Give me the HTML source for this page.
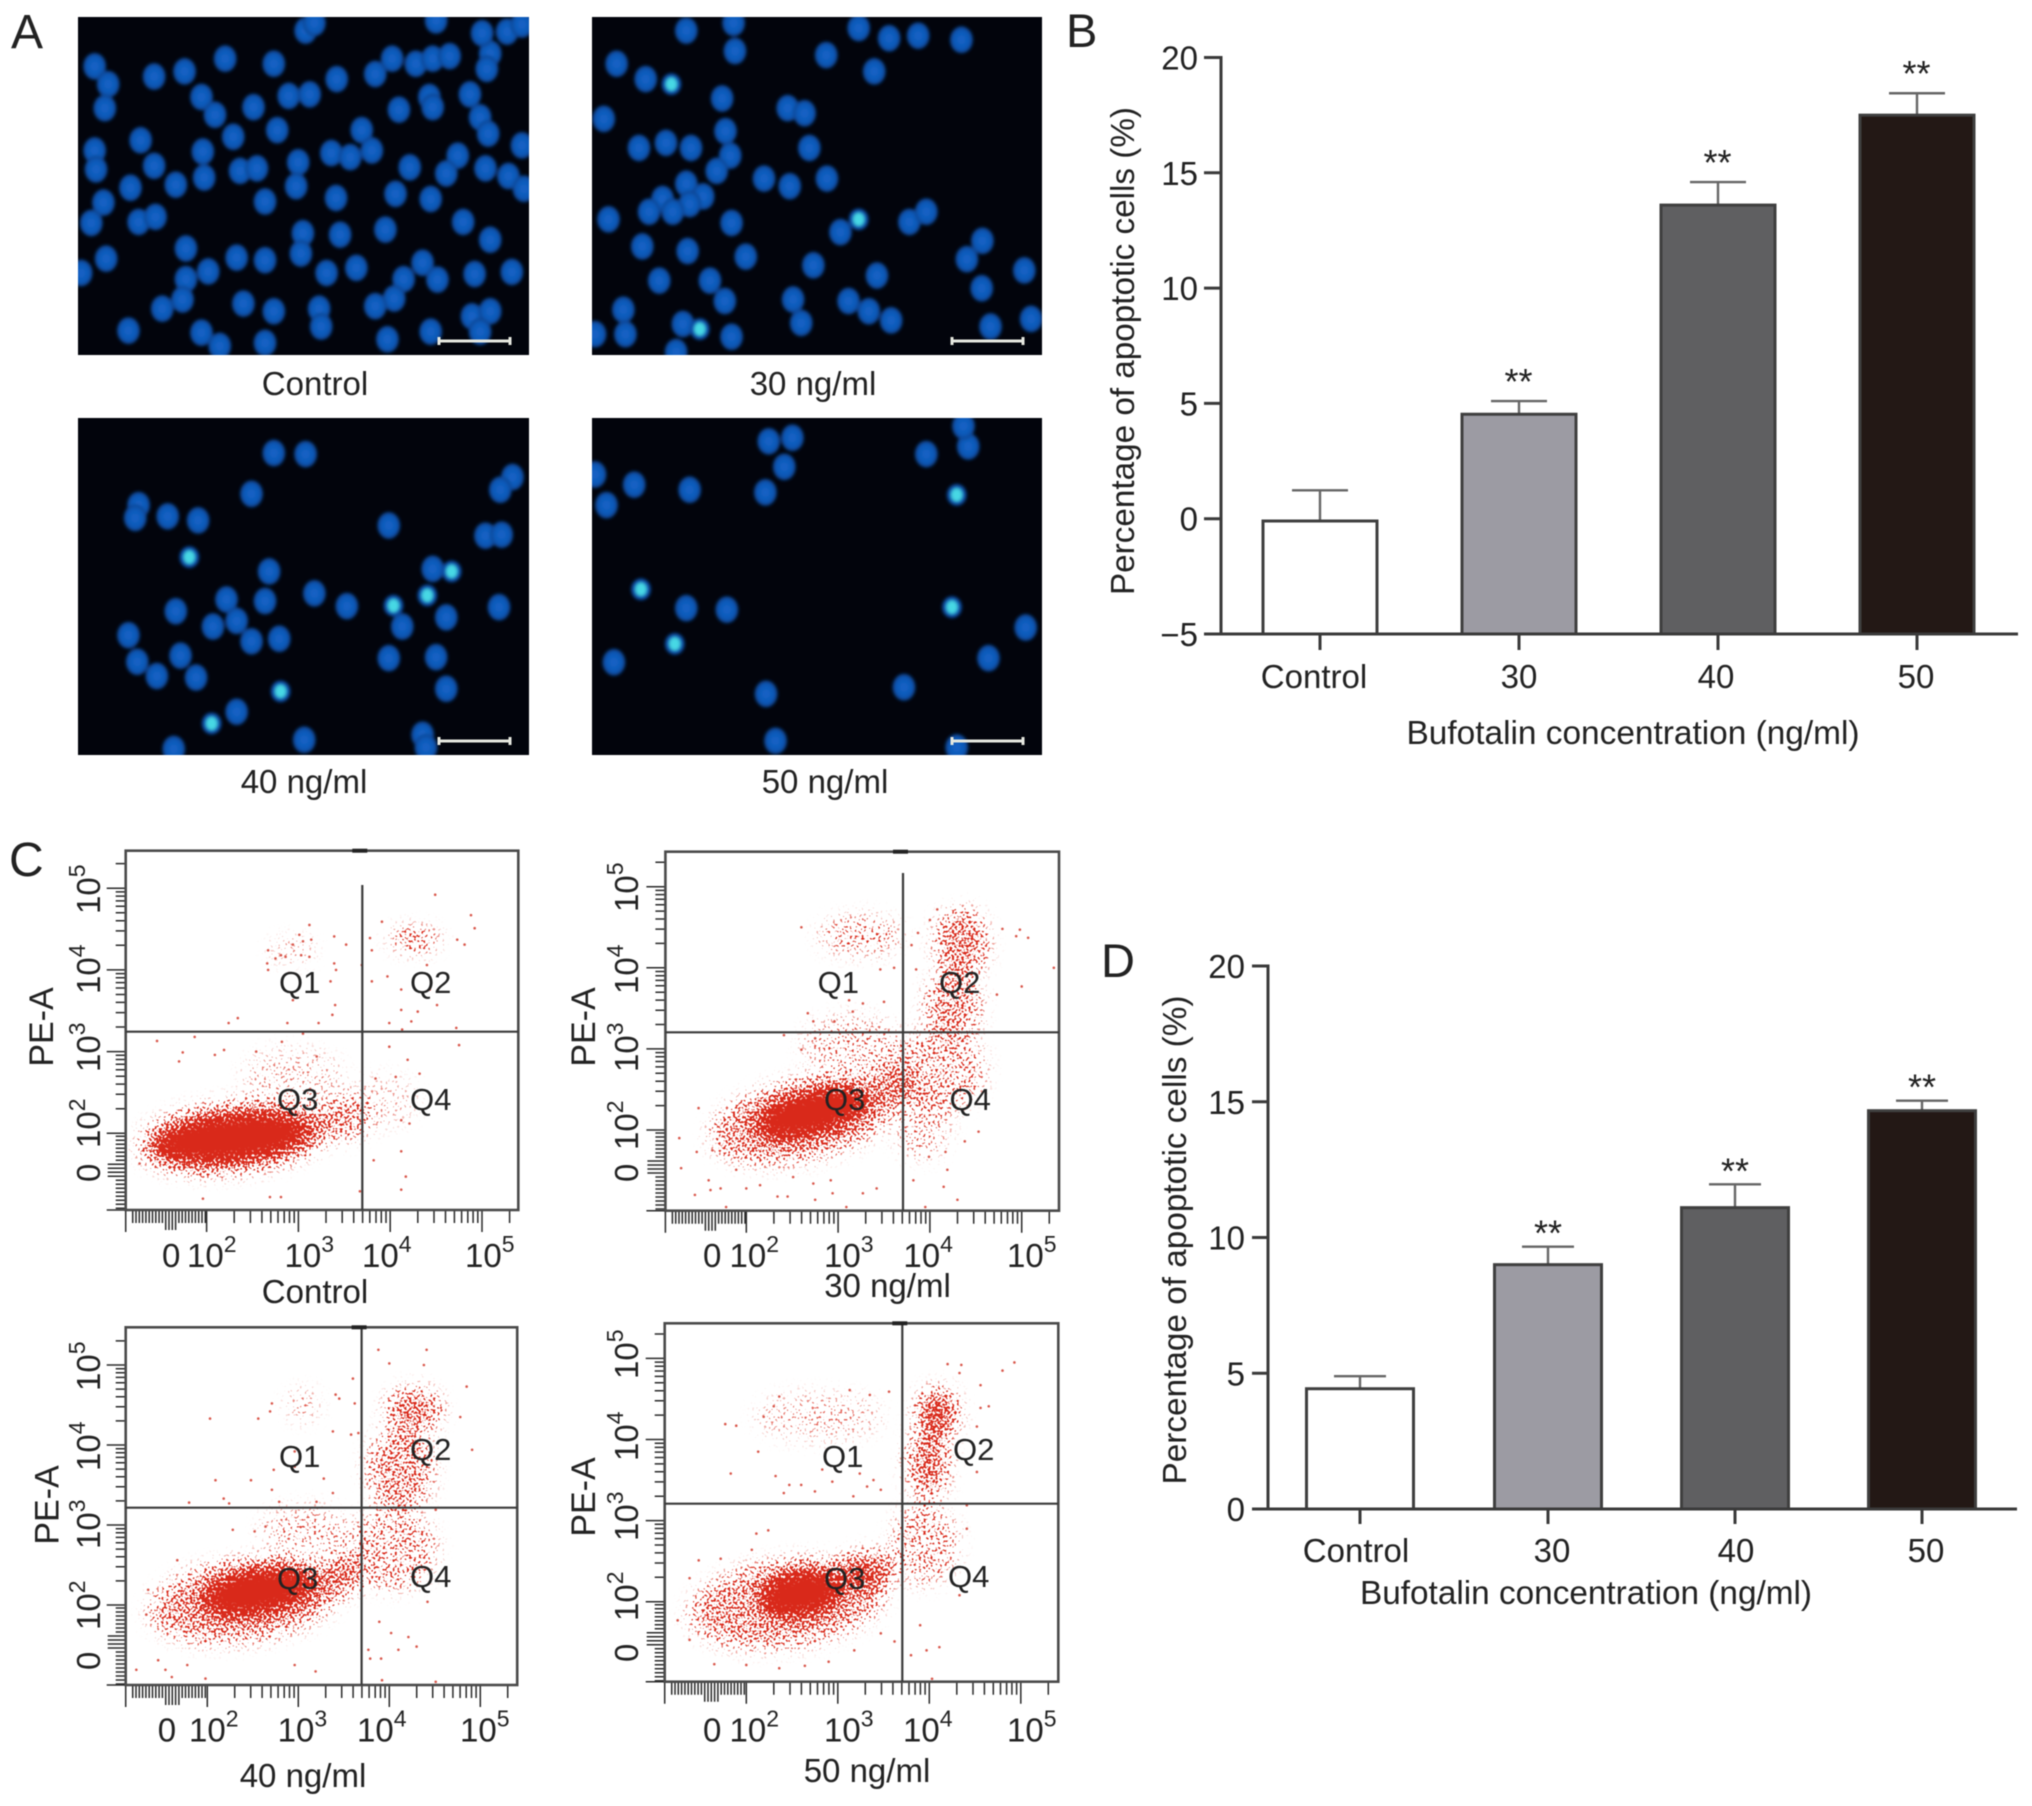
<!DOCTYPE html>
<html lang="en">
<head>
<meta charset="utf-8">
<title>Bufotalin apoptosis figure</title>
<style>
html,body{margin:0;padding:0;background:#fff;width:2032px;height:1806px;overflow:hidden}
svg{display:block;filter:blur(0.6px)}
text{font-family:"Liberation Sans",Arial,sans-serif;fill:#222}
</style>
</head>
<body>
<svg id="fig" xmlns="http://www.w3.org/2000/svg" width="2032" height="1806" viewBox="0 0 2032 1806">
<defs>
<radialGradient id="nucleusFill" cx="50%" cy="50%" r="50%"><stop offset="0%" stop-color="#1464c8"/><stop offset="70%" stop-color="#0f58b6"/><stop offset="100%" stop-color="#0b3f88"/></radialGradient>
<filter id="soft" x="-5%" y="-5%" width="110%" height="110%"><feGaussianBlur stdDeviation="1.6"/></filter>
<filter id="speckle" filterUnits="userSpaceOnUse" x="0" y="840" width="1100" height="860" color-interpolation-filters="sRGB">
<feGaussianBlur in="SourceGraphic" stdDeviation="9" result="blob"/>
<feTurbulence type="fractalNoise" baseFrequency="0.42" numOctaves="1" seed="7" result="noise"/>
<feColorMatrix in="noise" type="matrix" values="0 0 0 0 .85 0 0 0 0 .15 0 0 0 0 .1 3 0 0 0 -1" result="grain"/>
<feComposite in="blob" in2="grain" operator="arithmetic" k1="0" k2="1.3" k3="1" k4="-1" result="sum"/>
<feColorMatrix in="sum" type="matrix" values="0 0 0 0 .85 0 0 0 0 .16 0 0 0 0 .1 0 0 0 4 0"/>
</filter>
</defs>
<rect width="2032" height="1806" fill="#fff"/>
<text x="11" y="48" font-size="48">A</text>
<text x="1066" y="47" font-size="47">B</text>
<text x="9" y="876" font-size="48">C</text>
<text x="1101" y="977" font-size="47">D</text>
<text x="315" y="395" font-size="33" text-anchor="middle">Control</text>
<text x="813" y="395" font-size="33" text-anchor="middle">30 ng/ml</text>
<text x="304" y="793" font-size="33" text-anchor="middle">40 ng/ml</text>
<text x="825" y="793" font-size="33" text-anchor="middle">50 ng/ml</text>
<g id="micrographs"></g>
<g id="barB"></g>
<g id="barD"></g>
<g id="flow"></g>
</svg>
<script>
/* ---------- bar chart data ---------- */
const categories = ['Control', '30', '40', '50'];
const barFills = ['#ffffff', '#9c9ba3', '#5f5f61', '#231815'];
const bValues = [-0.1, 4.53, 13.6, 17.5];
const bErrorTops = [1.23, 5.1, 14.6, 18.45];
const bStars = ['', '**', '**', '**'];
const bTicks = [-5, 0, 5, 10, 15, 20];
const bTickLabels = ['\u22125', '0', '5', '10', '15', '20'];
const dValues = [4.43, 9.0, 11.1, 14.67];
const dErrorTops = [4.89, 9.66, 11.96, 15.04];
const dStars = ['', '**', '**', '**'];
const dTicks = [0, 5, 10, 15, 20];
const dTickLabels = ['0', '5', '10', '15', '20'];

/* ---------- flow cytometry data: log10 units. Clouds: [x, y, rx, ry, angle, density] ---------- */
const flowExponents = [2, 3, 4, 5];
const cloudsControl = [[2.28,1.94,0.85,0.28,-6,1],[2.3,1.95,1.05,0.42,-6,0.42],[3.5,2.2,0.3,0.26,-10,0.36],[2.94,2.7,0.55,0.32,0,0.13],[4.27,4.37,0.26,0.11,0,0.45],[2.94,4.24,0.24,0.13,0,0.16],[3.95,2.4,0.35,0.3,0,0.1]];
const dotsControl = [[2.67,4.24],[2.75,4.14],[2.81,4.18],[2.86,4.16],[2.94,4.31],[3.01,4.43],[3.05,4.35],[3.14,4.37],[3.03,4.18],[3.12,4.16],[2.66,4.08],[2.67,4.0],[3.39,4.41],[3.52,4.31],[3.12,4.55],[3.39,4.08],[3.41,4.0],[3.35,3.86],[2.94,3.63],[4.49,4.92],[4.88,4.67],[4.92,4.51],[4.81,4.31],[4.73,4.37],[3.91,4.59],[3.78,4.39],[3.8,4.24],[3.69,4.06],[3.8,3.86],[3.97,3.92],[4.12,3.76],[4.4,4.06],[4.43,3.76],[4.51,3.57],[4.12,3.51],[4.3,3.49],[4.23,3.37],[3.99,3.35],[4.13,3.27],[4.72,3.29],[4.75,3.08],[3.4,3.57],[3.37,3.45],[3.22,3.35],[2.88,3.35],[2.34,3.41],[2.24,3.35],[1.46,3.13],[1.87,3.18],[1.74,2.99],[1.7,2.88],[2.09,2.96],[2.19,3.02],[2.54,3.0],[2.82,3.12],[3.05,3.22],[3.2,2.94],[3.99,3.06],[4.19,2.9],[4.32,2.73],[4.06,2.69],[3.84,2.67],[4.12,2.16],[4.21,2.12],[4.12,1.78],[4.17,1.47],[4.12,1.31],[3.67,1.29],[3.82,1.67],[1.96,1.2],[2.69,1.22],[2.81,1.22],[1.27,1.63]];
const clouds30 = [[2.71,2.21,0.62,0.26,-15,1],[2.6,2.12,1.0,0.48,-12,0.4],[3.6,2.55,0.25,0.25,0,0.4],[4.1,2.74,0.5,0.5,0,0.26],[4.34,4.3,0.28,0.42,0,0.42],[4.25,3.52,0.3,0.42,0,0.36],[3.24,4.4,0.45,0.22,0,0.25],[3.16,3.03,0.55,0.38,0,0.18],[3.91,2.05,0.3,0.4,0,0.18]];
const dots30 = [[2.6,4.5],[4.08,4.72],[4.94,4.39],[5.07,4.37],[4.98,4.47],[4.79,4.48],[5.35,4.0],[5.0,3.77],[4.73,3.67],[4.0,4.59],[3.87,4.43],[3.8,4.28],[3.85,3.98],[3.61,4.0],[3.46,3.98],[3.12,3.6],[3.27,3.56],[3.5,3.58],[2.67,3.44],[2.73,3.34],[2.96,3.34],[3.16,3.46],[2.41,3.17],[2.75,3.13],[2.6,2.99],[1.27,1.9],[1.48,2.27],[1.46,1.73],[1.29,1.53],[1.59,1.38],[1.61,1.26],[1.72,1.28],[1.44,1.2],[1.78,1.05],[2.0,1.28],[2.15,1.32],[2.34,1.18],[2.45,1.18],[2.51,1.42],[2.73,1.34],[2.75,1.14],[2.92,1.38],[2.94,1.22],[3.27,1.22],[3.42,1.28],[3.09,1.05],[3.82,1.38],[4.15,1.3],[4.19,1.51],[4.3,1.14],[3.95,1.05],[3.99,1.67],[4.17,1.73],[4.38,1.86],[4.53,1.98],[1.89,1.51],[1.63,1.75]];
const clouds40 = [[2.56,2.17,0.62,0.27,-10,1],[2.41,2.06,1.05,0.5,-8,0.4],[3.5,2.4,0.22,0.25,0,0.45],[4.04,2.69,0.48,0.5,0,0.26],[4.27,4.44,0.3,0.26,0,0.46],[4.12,3.69,0.36,0.52,0,0.36],[3.05,4.5,0.15,0.18,0,0.2],[3.09,2.94,0.5,0.28,0,0.18]];
const dots40 = [[3.88,5.19],[4.41,5.19],[4.0,5.02],[4.38,5.0],[3.6,4.83],[4.85,4.73],[4.78,4.35],[4.91,3.94],[2.03,4.33],[2.56,4.33],[2.71,4.52],[2.69,4.42],[3.41,4.63],[3.45,4.58],[3.62,4.52],[3.58,4.13],[3.38,4.17],[3.66,4.15],[2.96,3.92],[2.96,3.73],[2.73,3.69],[2.09,3.56],[2.48,3.56],[2.71,3.44],[2.79,3.29],[2.18,3.33],[1.8,3.28],[2.24,3.27],[3.38,3.4],[3.28,3.58],[3.2,3.29],[2.28,2.94],[2.64,2.98],[2.52,2.92],[1.67,2.56],[1.35,2.19],[1.33,1.88],[1.22,1.19],[1.46,1.31],[1.54,1.19],[1.61,1.1],[1.98,1.08],[1.78,1.25],[3.19,1.17],[2.96,1.25],[3.77,1.44],[3.91,1.33],[3.79,1.33],[4.1,1.44],[4.3,1.48],[4.21,1.6],[4.02,1.65],[3.89,1.79],[4.42,2.04],[3.92,1.06],[4.51,1.04],[4.51,3.19]];
const clouds50 = [[2.6,2.1,0.45,0.27,-10,1],[3.32,2.39,0.3,0.22,0,0.55],[2.45,1.98,1.08,0.52,-8,0.38],[3.95,2.72,0.35,0.5,0,0.26],[4.09,4.33,0.22,0.29,0,0.6],[3.99,3.71,0.22,0.42,0,0.48],[2.79,4.28,0.7,0.28,0,0.14]];
const dots50 = [[4.93,4.95],[4.8,4.85],[4.2,4.93],[4.35,4.92],[4.33,4.82],[1.77,4.19],[1.89,4.17],[2.13,3.85],[1.83,3.58],[2.32,3.55],[2.19,4.28],[2.3,4.41],[2.36,4.53],[4.56,4.39],[4.65,4.41],[4.56,4.67],[4.52,4.16],[4.52,3.6],[4.41,3.19],[4.41,2.9],[2.47,3.44],[2.6,3.44],[2.41,3.34],[2.75,3.36],[2.94,3.48],[2.83,3.63],[3.24,3.58],[3.39,3.5],[3.47,3.38],[3.17,3.3],[3.32,3.42],[3.56,4.59],[3.35,4.55],[3.13,4.61],[2.11,2.84],[2.24,2.88],[2.06,2.64],[1.72,2.53],[1.48,2.51],[1.25,1.77],[1.38,2.29],[1.38,1.53],[1.65,1.23],[2.0,1.22],[2.36,1.18],[2.64,1.21],[2.9,1.26],[3.18,1.4],[3.47,1.61],[3.62,1.51],[3.8,1.34],[3.97,1.4],[4.11,1.44],[3.9,1.71],[4.03,1.05],[4.33,2.08]];

/* ---------- micrograph nuclei: [x, y, kind] in a 1568-wide overview frame; kind 1 = bright condensed ---------- */
const nucleiControl = [[140,130],[160,165],[228,150],[273,140],[333,115],[405,125],[498,155],[555,145],[580,115],[615,125],[640,115],[665,110],[725,105],[720,135],[155,212],[298,190],[318,225],[375,210],[427,188],[458,185],[590,215],[635,190],[640,210],[695,185],[710,230],[722,262],[208,275],[345,268],[410,255],[535,255],[140,295],[142,332],[300,297],[228,325],[490,300],[518,308],[550,295],[441,318],[355,335],[380,330],[606,328],[677,305],[660,340],[718,330],[752,345],[772,285],[193,368],[260,362],[302,348],[775,370],[153,397],[135,437],[392,395],[438,365],[497,388],[585,380],[637,390],[205,435],[230,425],[570,450],[685,435],[448,457],[503,460],[275,487],[157,507],[350,505],[392,510],[445,497],[725,470],[527,525],[483,535],[625,515],[702,537],[757,533],[308,532],[275,547],[597,547],[647,548],[120,535],[270,587],[360,595],[405,610],[240,605],[583,585],[555,600],[472,605],[475,640],[190,648],[298,652],[325,678],[392,672],[573,665],[637,650],[698,620],[725,610],[710,650],[452,60],[465,45],[645,40],[713,65],[750,62],[772,48]];
const nuclei30 = [[1015,60],[1085,45],[1270,55],[1087,100],[1315,75],[1358,70],[1422,78],[1222,108],[912,125],[1293,140],[955,155],[993,165,1],[1068,193],[1165,212],[1190,222],[893,233],[1073,257],[1197,290],[945,290],[985,280],[1022,290],[1080,305],[1060,335],[1130,350],[1168,365],[1223,350],[1015,360],[1040,385],[980,390],[1020,400],[960,415],[995,415],[900,430],[1082,437],[1243,455],[1270,430,1],[1345,435],[1370,415],[950,483],[1017,492],[1103,503],[1453,472],[1430,508],[1515,530],[1203,520],[975,550],[1050,550],[1297,540],[1452,565],[1072,590],[1173,587],[1255,590],[1285,610],[922,607],[1525,625],[1185,633],[1318,628],[925,655],[1010,635],[1035,645,1],[1082,660],[1465,640],[880,655],[1000,690]];
const nuclei40 = [[405,888],[452,890],[372,968],[758,935],[740,960],[205,990],[200,1015],[248,1012],[293,1020],[718,1050],[742,1048],[575,1030],[280,1092,1],[640,1115],[668,1120,1],[398,1120],[335,1175],[392,1178],[465,1163],[513,1188],[632,1167,1],[582,1187,1],[260,1198],[738,1190],[315,1228],[350,1217],[595,1228],[660,1210],[190,1245],[372,1257],[413,1252],[203,1297],[267,1285],[645,1288],[575,1290],[232,1325],[290,1328],[660,1350],[415,1355,1],[350,1395],[313,1418,1],[450,1450],[625,1440],[257,1468],[630,1465]];
const nuclei50 = [[1137,865],[1172,858],[1160,915],[1370,890],[1432,875],[1425,835],[938,950],[1020,960],[1132,965],[897,990],[880,930],[1415,970,1],[948,1155,1],[1408,1190,1],[1015,1192],[1075,1195],[998,1262,1],[1517,1230],[908,1298],[1462,1290],[1337,1347],[1133,1360],[1147,1452],[1415,1465]];

const SVG_NS = 'http://www.w3.org/2000/svg';
function make(parent, tag, attrs, txt) {
  const n = document.createElementNS(SVG_NS, tag);
  for (const k in attrs) n.setAttribute(k, attrs[k]);
  if (txt !== undefined) n.textContent = txt;
  parent.appendChild(n);
  return n;
}

/* ---------- micrographs ---------- */
const micrographFrames = [
  {name:'control', x:78, y:17, w:451, h:338, nuclei:nucleiControl},
  {name:'30', x:592, y:17, w:450, h:338, nuclei:nuclei30},
  {name:'40', x:78, y:418, w:451, h:337, nuclei:nuclei40},
  {name:'50', x:592, y:418, w:450, h:337, nuclei:nuclei50}
];
const micrographsRoot = document.getElementById('micrographs');
micrographFrames.forEach(function (f, i) {
  const clip = make(document.querySelector('defs'), 'clipPath', {id:'mclip' + i});
  make(clip, 'rect', {x:f.x, y:f.y, width:f.w, height:f.h});
  const g = make(micrographsRoot, 'g', {'clip-path':'url(#mclip' + i + ')'});
  
  
  make(g, 'rect', {x:f.x, y:f.y, width:f.w, height:f.h, fill:'#02040c'});
  const cells = make(g, 'g', {filter:'url(#soft)'});
  f.nuclei.forEach(function (p) {
    const bright = p[2] === 1;
    const cx = p[0] / 1.479;
    const cy = p[1] / 1.96;
    const cell = make(cells, 'ellipse', {cx:cx, cy:cy, rx:bright ? 10 : 11.5, ry:bright ? 11 : 13.5, fill:'url(#nucleusFill)'});
    
    
    if (bright) {
      const core = make(cells, 'ellipse', {cx:cx, cy:cy, rx:5.5, ry:6.5, fill:'#46d8e4'});
      
      
    }
  });
  const barY = f.y + f.h - 14;
  const barX = f.x + f.w - 90;
  const scale = make(g, 'path', {d:'M' + barX + ' ' + barY + 'h71M' + barX + ' ' + (barY - 4) + 'v8M' + (barX + 71) + ' ' + (barY - 4) + 'v8', stroke:'#e6e8e0', 'stroke-width':3, fill:'none'});
  
  
});

/* ---------- bar charts ---------- */
function drawBars(rootId, o) {
  const root = document.getElementById(rootId);
  const y = function (v) { return o.y0 + (v - o.min) * (o.y1 - o.y0) / (o.max - o.min); };
  o.centers.forEach(function (cx, i) {
    const top = y(o.values[i]);
    const err = y(o.errors[i]);
    const eb = make(root, 'path', {d:'M' + cx + ' ' + top + 'V' + err + 'M' + (cx - o.cap) + ' ' + err + 'H' + (cx + o.cap), stroke:'#666', 'stroke-width':2.4, fill:'none'});
    
    
    const bar = make(root, 'rect', {x:cx - o.barW / 2, y:top, width:o.barW, height:o.y0 - top, fill:barFills[i], stroke:'#3f3f3f', 'stroke-width':3});
    
    
    const tk = make(root, 'line', {x1:cx, x2:cx, y1:o.y0, y2:o.y0 + o.tickLen, stroke:'#3a3a3a', 'stroke-width':3});
    
    
    const lb = make(root, 'text', {x:o.labelX[i], y:o.labelY, 'font-size':33, 'text-anchor':'middle'}, categories[i]);
    
    
    if (o.stars[i]) {
      const st = make(root, 'text', {x:cx + o.starDx, y:err + o.starDy, 'font-size':36, 'text-anchor':'middle'}, o.stars[i]);
      
      
    }
  });
  const yAxis = make(root, 'line', {x1:o.axisX, x2:o.axisX, y1:y(o.max) - 1.5, y2:o.y0, stroke:'#3a3a3a', 'stroke-width':3});
  
  
  const xAxis = make(root, 'line', {x1:o.axisX, x2:o.axisEnd, y1:o.y0, y2:o.y0, stroke:'#3a3a3a', 'stroke-width':3});
  
  
  o.ticks.forEach(function (t, i) {
    const yy = y(t);
    const tk = make(root, 'line', {x1:o.axisX - o.yTickLen, x2:o.axisX, y1:yy, y2:yy, stroke:'#3a3a3a', 'stroke-width':3});
    
    
    const lb = make(root, 'text', {x:o.tickRight, y:yy + 12, 'font-size':33, 'text-anchor':'end'}, o.tickLabels[i]);
    
    
  });
  const xt = make(root, 'text', {x:o.xTitleX, y:o.xTitleY, 'font-size':33, 'text-anchor':'middle', textLength:o.xTitleLen, lengthAdjust:'spacingAndGlyphs'}, 'Bufotalin concentration (ng/ml)');
  
  
  const yt = make(root, 'text', {transform:'translate(' + o.yTitleX + ' ' + o.yTitleY + ') rotate(-90)', 'font-size':33, 'text-anchor':'middle', textLength:o.yTitleLen, lengthAdjust:'spacingAndGlyphs'}, 'Percentage of apoptotic cells (%)');
  
  
}
drawBars('barB', {min:-5, max:20, y0:634, y1:57.5, values:bValues, errors:bErrorTops, stars:bStars, ticks:bTicks, tickLabels:bTickLabels,
  centers:[1320,1519,1718,1917], barW:114, cap:28, tickLen:16, yTickLen:17, axisX:1221, axisEnd:2018, tickRight:1198,
  labelX:[1314,1519,1716,1916], labelY:688, starDx:-0.5, starDy:-7, xTitleX:1633, xTitleY:744, xTitleLen:453, yTitleX:1134, yTitleY:351, yTitleLen:488});
drawBars('barD', {min:0, max:20, y0:1509, y1:966, values:dValues, errors:dErrorTops, stars:dStars, ticks:dTicks, tickLabels:dTickLabels,
  centers:[1360,1548,1735,1922], barW:107, cap:26, tickLen:15, yTickLen:16, axisX:1268, axisEnd:2017, tickRight:1245,
  labelX:[1356,1552,1736,1926], labelY:1562, starDx:0, starDy:-1, xTitleX:1586, xTitleY:1604, xTitleLen:452, yTitleX:1186, yTitleY:1240, yTitleLen:489});

/* ---------- flow panels ---------- */
const flowPanels = [
  {name:'control', L:125.7, R:518.3, T:850.7, B:1210, x2:206.6, dx:91.8, y2:1133.3, dy:81.7, gateX:362.3, gateTop:885, gateY:1031.7,
   clouds:cloudsControl, dots:dotsControl, zeroX:162, xLabels:[187,284.5,362,465], xBase:1267, yBaseX:100, zeroY:1182, yLabels:[1148,1072,994,914],
   peX:53, peY:1027, q:[[279,993],[410,993],[277,1110],[410,1110]], cap:'Control', capX:315, capY:1303},
  {name:'30', L:665.4, R:1059, T:851.7, B:1210.7, x2:746.3, dx:91.8, y2:1130, dy:81.1, gateX:903, gateTop:873, gateY:1032.3,
   clouds:clouds30, dots:dots30, zeroX:703, xLabels:[729.5,824,903.4,1007], xBase:1267, yBaseX:638, zeroY:1182, yLabels:[1150,1072,994,912],
   peX:595, peY:1027, q:[[817.6,993],[939,993],[824,1110],[949.5,1110]], cap:'30 ng/ml', capX:887.5, capY:1297},
  {name:'40', L:125.7, R:517.2, T:1327.3, B:1685, x2:207.3, dx:91, y2:1605, dy:80, gateX:361.6, gateTop:1327.3, gateY:1507.7,
   clouds:clouds40, dots:dots40, zeroX:157.7, xLabels:[189,277.6,357,460], xBase:1741.7, yBaseX:100, zeroY:1670, yLabels:[1630,1549,1471,1391],
   peX:58.5, peY:1505, q:[[279,1467],[410,1460],[277,1589],[410,1587]], cap:'40 ng/ml', capX:303, capY:1787},
  {name:'50', L:664.7, R:1058.3, T:1323.3, B:1681.7, x2:746.3, dx:91.5, y2:1601.7, dy:81.1, gateX:902.3, gateTop:1323.3, gateY:1503.7,
   clouds:clouds50, dots:dots50, zeroX:703, xLabels:[729.5,824,903,1007], xBase:1741.7, yBaseX:638, zeroY:1662, yLabels:[1621,1541,1461,1379],
   peX:595, peY:1497, q:[[822,1467],[953,1460],[824,1589],[948,1587]], cap:'50 ng/ml', capX:867, capY:1782}
];
const flowRoot = document.getElementById('flow');
const minorSteps = [2,3,4,5,6,7,8,9];
const quadrantNames = ['Q1','Q2','Q3','Q4'];

flowPanels.forEach(function (p, i) {
  const X = function (v) { return p.x2 + (v - 2) * p.dx; };
  const Y = function (v) { return p.y2 - (v - 2) * p.dy; };
  const g = make(flowRoot, 'g', {});
  
  
  const clip = make(document.querySelector('defs'), 'clipPath', {id:'fclip' + i});
  make(clip, 'rect', {x:p.L, y:p.T, width:p.R - p.L, height:p.B - p.T});

  /* density clouds */
  const clipped = make(g, 'g', {'clip-path':'url(#fclip' + i + ')'});
  const cloudG = make(clipped, 'g', {filter:'url(#speckle)'});
  p.clouds.forEach(function (c) {
    const e = make(cloudG, 'ellipse', {cx:X(c[0]), cy:Y(c[1]), rx:c[2] * p.dx, ry:c[3] * p.dy, fill:'#d82a1a', 'fill-opacity':c[5],
      transform:'rotate(' + c[4] + ' ' + X(c[0]) + ' ' + Y(c[1]) + ')'});
    
    
  });
  /* individually read events */
  p.dots.forEach(function (d) {
    const pt = make(clipped, 'circle', {cx:X(d[0]), cy:Y(d[1]), r:1.3, fill:'#d9584c'});
    
    
  });

  /* ticks */
  let tickPath = '';
  const xTick = function (x, len) { tickPath += 'M' + x.toFixed(1) + ' ' + p.B + 'v' + len; };
  const yTick = function (y, len) { tickPath += 'M' + p.L + ' ' + y.toFixed(1) + 'h' + (-len); };
  flowExponents.forEach(function (e) {
    xTick(X(e), 22);
    yTick(Y(e), 19);
    if (e < 5) minorSteps.forEach(function (m) {
      const lg = e + Math.log10(m);
      xTick(X(lg), 13);
      yTick(Y(lg), 10);
    });
  });
  xTick(X(5 + Math.log10(2)), 13);
  yTick(Y(5 + Math.log10(2)), 10);
  xTick(p.L, 22);
  for (let x = p.L + 7; x < p.x2; x += 3.3) xTick(x, (x > p.x2 - 42 && x < p.x2 - 28) ? 20 : 13);
  for (let y = p.y2 + 3; y < p.B; y += 4) yTick(y, (y > p.y2 + 30 && y < p.y2 + 46) ? 18 : 10);
  yTick(p.B, 19);
  const ticks = make(g, 'path', {d:tickPath, stroke:'#2a2a2a', 'stroke-width':1.5, fill:'none'});
  
  

  /* frame and gates */
  const box = make(g, 'rect', {x:p.L, y:p.T, width:p.R - p.L, height:p.B - p.T, fill:'none', stroke:'#4a4a4a', 'stroke-width':2.6});
  
  
  const gv = make(g, 'line', {x1:p.gateX, x2:p.gateX, y1:p.gateTop, y2:p.B, stroke:'#3a3a3a', 'stroke-width':2.2});
  
  
  const gh = make(g, 'line', {x1:p.L, x2:p.R, y1:p.gateY, y2:p.gateY, stroke:'#3a3a3a', 'stroke-width':2.2});
  
  
  const nub = make(g, 'line', {x1:p.gateX - 10, x2:p.gateX + 5, y1:p.T, y2:p.T, stroke:'#222', 'stroke-width':4});
  
  

  /* tick labels */
  const zx = make(g, 'text', {x:p.zeroX, y:p.xBase, 'font-size':33}, '0');
  
  
  flowExponents.forEach(function (e, k) {
    const t = make(g, 'text', {x:p.xLabels[k], y:p.xBase, 'font-size':33}, '10');
    
    
    const s = make(t, 'tspan', {dy:-15, 'font-size':23}, String(e));
    
    
  });
  const zy = make(g, 'text', {transform:'translate(' + p.yBaseX + ' ' + p.zeroY + ') rotate(-90)', 'font-size':33}, '0');
  
  
  flowExponents.forEach(function (e, k) {
    const t = make(g, 'text', {transform:'translate(' + p.yBaseX + ' ' + p.yLabels[k] + ') rotate(-90)', 'font-size':33}, '10');
    
    
    const s = make(t, 'tspan', {dy:-15, 'font-size':23}, String(e));
    
    
  });

  /* axis labels */
  const pe = make(g, 'text', {transform:'translate(' + p.peX + ' ' + p.peY + ') rotate(-90)', 'font-size':34, 'text-anchor':'middle'}, 'PE-A');
  
  
  const cp = make(g, 'text', {x:p.capX, y:p.capY, 'font-size':33, 'text-anchor':'middle'}, p.cap);
  
  
  p.q.forEach(function (q, k) {
    const t = make(g, 'text', {x:q[0], y:q[1], 'font-size':31, fill:'#111'}, quadrantNames[k]);
    
    
  });
});
</script>
</body>
</html>
